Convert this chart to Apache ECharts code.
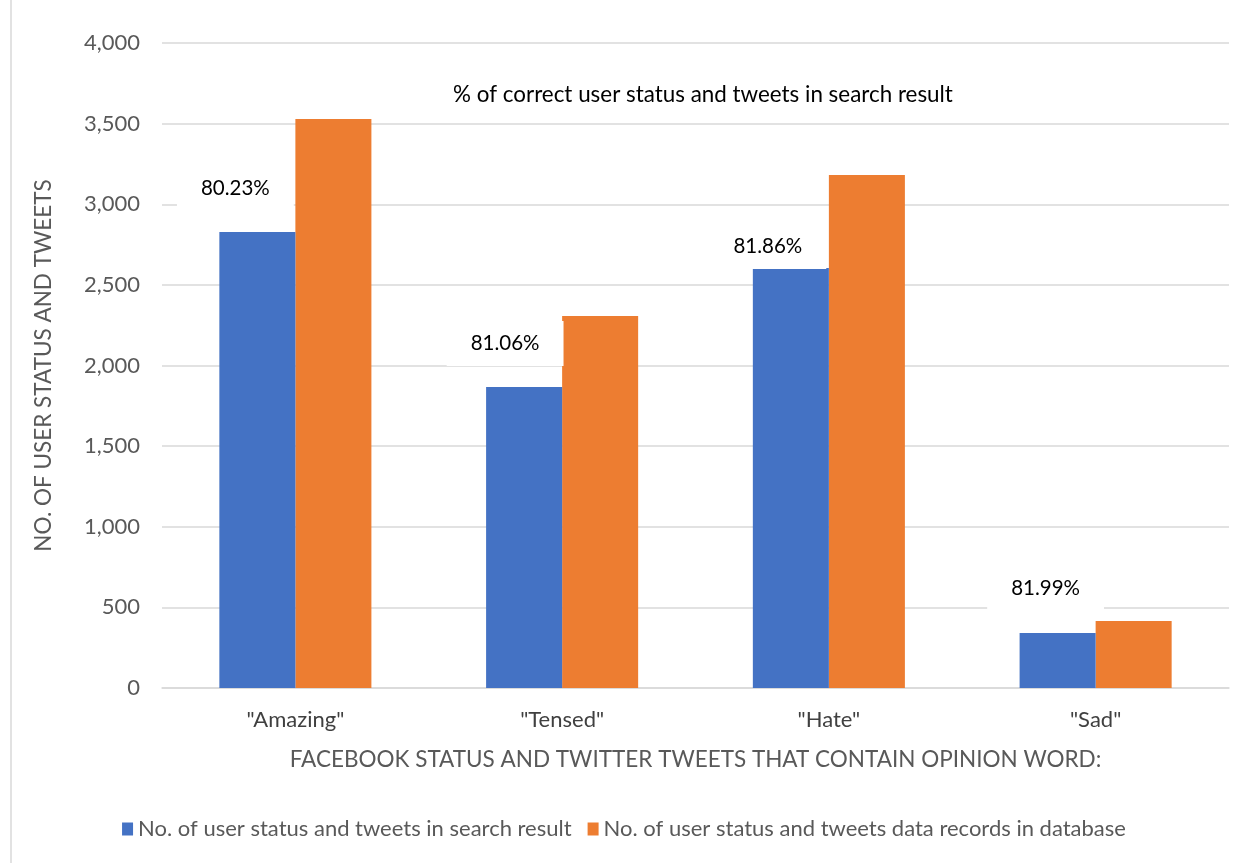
<!DOCTYPE html>
<html><head><meta charset="utf-8">
<script src="https://cdn.jsdelivr.net/npm/echarts@6/dist/echarts.min.js"></script>
<style>html,body{margin:0;padding:0;background:#fff}#c{width:1248px;height:863px}</style>
</head><body><div id="c"></div>
<script>
const categories = ['"Amazing"', '"Tensed"', '"Hate"', '"Sad"'];
const searchResult = [2828, 1867, 2605, 341];
const databaseRecords = [3529, 2307, 3181, 415];
const percentLabels = ['80.23%', '81.06%', '81.86%', '81.99%'];
const seriesNames = ['No. of user status and tweets in search result', 'No. of user status and tweets data records in database'];
const chartTitle = '% of correct user status and tweets in search result';
const yAxisName = 'NO. OF USER STATUS AND TWEETS';
const xAxisName = 'FACEBOOK STATUS AND TWITTER TWEETS THAT CONTAIN OPINION WORD:';

const labelOffsets = [[-22, -16], [-19, -16], [-23, 6], [-12, -17]];
const font = 'Lato, "Liberation Sans", sans-serif';
const chart = echarts.init(document.getElementById('c'));
chart.setOption({
  backgroundColor: '#fff',
  textStyle: { fontFamily: font },
  title: { text: chartTitle, left: 698, top: 79, textAlign: 'center',
    textStyle: { fontSize: 22.4, fontWeight: 'normal', color: '#000', fontFamily: font } },
  legend: { bottom: 18, left: 'center', itemWidth: 11, itemHeight: 13, itemGap: 16, icon: 'rect',
    textStyle: { fontSize: 22, color: '#595959', fontFamily: font } },
  graphic: [{ type: 'rect', shape: { x: 11, y: -2, width: 1240, height: 870 }, silent: true, z: -10,
    style: { fill: 'none', stroke: '#d9d9d9', lineWidth: 1.5 } }],
  grid: { left: 162, right: 19, top: 43, bottom: 175 },
  xAxis: { type: 'category', data: categories,
    axisLine: { lineStyle: { color: '#d9d9d9', width: 1.5 } }, axisTick: { show: false },
    axisLabel: { fontSize: 22, color: '#404040', margin: 21, fontFamily: font },
    name: xAxisName, nameLocation: 'middle', nameGap: 60,
    nameTextStyle: { fontSize: 22.5, color: '#595959', fontFamily: font } },
  yAxis: { type: 'value', min: 0, max: 4000, interval: 500,
    axisLine: { show: false }, axisTick: { show: false },
    splitLine: { lineStyle: { color: '#d9d9d9', width: 1.5 } },
    axisLabel: { fontSize: 22, color: '#595959', margin: 22, fontFamily: font,
      formatter: v => v.toLocaleString('en-US') },
    name: yAxisName, nameLocation: 'middle', nameGap: 107, nameRotate: 90,
    nameTextStyle: { fontSize: 22.5, color: '#595959', fontFamily: font } },
  series: [
    { name: seriesNames[0], type: 'bar', barWidth: '28.5%', barGap: '0%',
      itemStyle: { color: '#4472c4' },
      data: searchResult.map((v, i) => ({ value: v, label: { offset: labelOffsets[i] } })),
      label: { show: true, position: 'top', formatter: p => percentLabels[p.dataIndex],
        fontSize: 20.5, color: '#000', fontFamily: font, backgroundColor: '#fff',
        padding: [12, 24, 12, 24] }, z: 3 },
    { name: seriesNames[1], type: 'bar', barWidth: '28.5%', barGap: '0%',
      itemStyle: { color: '#ed7d31' }, data: databaseRecords, z: 2 }
  ]
});
</script></body></html>
